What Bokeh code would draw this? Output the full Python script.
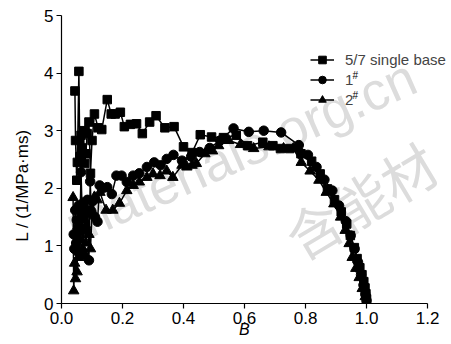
import math
from bokeh.plotting import figure
from bokeh.models import (Range1d, FixedTicker, Legend, LegendItem, Label)
from bokeh.embed import file_html
from bokeh.resources import INLINE

# ---------------- data ----------------
B_single = [0.044, 0.046, 0.050, 0.052, 0.057, 0.060, 0.064, 0.068, 0.072, 0.076,
            0.080, 0.084, 0.090, 0.095, 0.100, 0.108, 0.120, 0.132, 0.150, 0.163,
            0.176, 0.193, 0.206, 0.226, 0.246, 0.265, 0.289, 0.310, 0.339, 0.369,
            0.400, 0.428, 0.455, 0.492, 0.531, 0.573, 0.610, 0.660, 0.693, 0.718,
            0.748, 0.785, 0.820, 0.848, 0.872, 0.895, 0.917, 0.935, 0.947, 0.960,
            0.969, 0.978, 0.985, 0.991, 0.995, 0.998, 1.000]
L_single = [3.69, 2.83, 2.14, 2.45, 4.03, 2.55, 2.92, 2.70, 3.00, 2.43,
            2.60, 2.95, 3.15, 2.26, 2.83, 3.29, 3.05, 3.02, 3.54, 3.29,
            3.29, 3.32, 3.07, 3.11, 3.12, 2.95, 3.15, 3.26, 3.05, 3.07,
            2.72, 2.62, 2.93, 2.89, 2.88, 2.92, 2.74, 2.80, 2.74, 2.69,
            2.69, 2.60, 2.47, 2.25, 1.99, 1.80, 1.59, 1.38, 1.18, 0.97,
            0.78, 0.62, 0.50, 0.38, 0.27, 0.17, 0.08]

B_1 = [0.040, 0.042, 0.045, 0.048, 0.050, 0.053, 0.056, 0.060, 0.064, 0.068,
       0.072, 0.076, 0.080, 0.085, 0.090, 0.094, 0.098, 0.103, 0.110, 0.118,
       0.125, 0.135, 0.150, 0.165, 0.180, 0.197, 0.214, 0.235, 0.255, 0.280,
       0.304, 0.325, 0.345, 0.367, 0.395, 0.425, 0.453, 0.486, 0.520, 0.564,
       0.614, 0.663, 0.720, 0.778, 0.808, 0.836, 0.862, 0.888, 0.910, 0.932,
       0.948, 0.961, 0.972, 0.982, 0.990, 0.996, 1.000]
L_1 = [1.20, 0.95, 1.62, 1.05, 1.45, 0.90, 1.70, 1.25, 2.28, 1.55,
       0.85, 1.65, 1.30, 1.80, 0.75, 2.12, 1.60, 1.78, 1.50, 1.42,
       2.05, 2.00, 2.02, 1.90, 2.22, 2.22, 2.11, 2.22, 2.26, 2.37,
       2.45, 2.40, 2.51, 2.58, 2.48, 2.55, 2.63, 2.70, 2.83, 3.04,
       2.98, 3.00, 2.97, 2.75, 2.58, 2.37, 2.15, 1.96, 1.70, 1.43,
       1.18, 0.95, 0.72, 0.50, 0.32, 0.16, 0.05]

B_2 = [0.038, 0.040, 0.043, 0.046, 0.048, 0.051, 0.054, 0.058, 0.062, 0.066,
       0.070, 0.075, 0.080, 0.085, 0.090, 0.095, 0.100, 0.108, 0.117, 0.126,
       0.146, 0.168, 0.190, 0.214, 0.235, 0.255, 0.280, 0.300, 0.323, 0.345,
       0.365, 0.395, 0.411, 0.428, 0.442, 0.470, 0.495, 0.515, 0.548, 0.587,
       0.630, 0.680, 0.728, 0.760, 0.786, 0.815, 0.844, 0.868, 0.893, 0.915,
       0.930, 0.943, 0.953, 0.965, 0.976, 0.986, 0.996]
L_2 = [1.84, 0.22, 0.70, 0.43, 1.20, 0.55, 1.35, 0.80, 1.10, 1.75,
       0.95, 1.45, 1.05, 1.60, 1.20, 0.95, 1.55, 1.85, 1.80, 1.93,
       1.62, 1.62, 1.74, 1.96, 2.05, 2.11, 2.19, 2.25, 2.22, 2.30,
       2.19, 2.40, 2.37, 2.40, 2.43, 2.60, 2.65, 2.74, 2.83, 2.76,
       2.69, 2.72, 2.69, 2.69, 2.45, 2.30, 2.14, 1.93, 1.73, 1.50,
       1.27, 1.04, 0.80, 0.61, 0.45, 0.26, 0.12]

series_names = ["5/7 single base", "1", "2"]
series_sup = ["", "#", "#"]
x_ticks = [0.0, 0.2, 0.4, 0.6, 0.8, 1.0, 1.2]
x_tick_labels = ["0.0", "0.2", "0.4", "0.6", "0.8", "1.0", "1.2"]
y_ticks = [0, 1, 2, 3, 4, 5]
y_tick_labels = ["0", "1", "2", "3", "4", "5"]
x_title = "B"
y_title = "L / (1/MPa·ms)"
watermark_latin = "materials.org.cn"
watermark_cjk = "含能材"

FONT = "Liberation Sans"
NB = "\u00a0"

p = figure(width=451, height=344, output_backend="svg", toolbar_location=None,
           x_range=Range1d(0, 1.272), y_range=Range1d(0, 5),
           min_border_left=61, min_border_right=2, min_border_top=15,
           min_border_bottom=41)
p.grid.visible = False
p.outline_line_color = None
p.background_fill_color = "white"
p.border_fill_color = "white"

for ax, ticks, labels in ((p.xaxis[0], x_ticks, x_tick_labels), (p.yaxis[0], y_ticks, y_tick_labels)):
    ax.ticker = FixedTicker(ticks=ticks)
    ax.major_label_overrides = {t: l for t, l in zip(ticks, labels)}
    ax.axis_line_color = "black"
    ax.axis_line_width = 1.2
    ax.major_tick_line_color = "black"
    ax.major_tick_line_width = 1.2
    ax.major_tick_in = 0
    ax.major_tick_out = 5
    ax.minor_tick_line_color = None
    ax.major_label_text_font = FONT
    ax.major_label_text_font_size = "17px"
    ax.major_label_text_color = "black"
    ax.major_label_standoff = 3
    ax.axis_label_text_font = FONT
    ax.axis_label_text_color = "black"

p.xaxis.bounds = (0, 1.2)
p.xaxis.axis_label = x_title + NB * 5
p.xaxis.axis_label_text_font_style = "italic"
p.xaxis.axis_label_text_font_size = "16px"
p.xaxis.axis_label_standoff = -6

p.yaxis.axis_label = y_title + NB * 11
p.yaxis.axis_label_text_font_style = "normal"
p.yaxis.axis_label_text_font_size = "17px"
p.yaxis.axis_label_standoff = 9

# watermark (behind data)
p.add_layout(Label(x=7, y=76, x_units="screen", y_units="screen", text=watermark_latin,
                   angle=0.419, text_font=FONT, text_font_size="53px",
                   text_color="#dcdcdc", text_align="left", text_baseline="middle",
                   level="underlay"))
p.add_layout(Label(x=228, y=62, x_units="screen", y_units="screen", text=watermark_cjk,
                   angle=0.54, text_font="Noto Sans CJK SC", text_font_size="55px",
                   text_color="#dcdcdc", text_align="left", text_baseline="middle",
                   level="underlay"))

l1 = p.line(B_single, L_single, line_color="black", line_width=1.5)
s1 = p.scatter(B_single, L_single, marker="square", size=8.5, fill_color="black", line_color="black")
l2 = p.line(B_1, L_1, line_color="black", line_width=1.5)
s2 = p.scatter(B_1, L_1, marker="circle", size=9.5, fill_color="black", line_color="black")
l3 = p.line(B_2, L_2, line_color="black", line_width=1.5)
s3 = p.scatter(B_2, L_2, marker="triangle", size=10.5, fill_color="black", line_color="black")

legend = Legend(items=[LegendItem(label=series_names[0], renderers=[l1, s1]),
                       LegendItem(label=series_names[1], renderers=[l2, s2]),
                       LegendItem(label=series_names[2], renderers=[l3, s3])],
                location=(249, 194), orientation="vertical",
                glyph_width=24, glyph_height=19, label_height=19, spacing=1,
                label_standoff=11, padding=0, margin=0,
                background_fill_alpha=0, border_line_color=None,
                label_text_font=FONT, label_text_font_size="15px")
p.add_layout(legend)

for sup, yy in zip(series_sup[1:], (228, 208)):
    p.add_layout(Label(x=291, y=yy, x_units="screen", y_units="screen", text=sup,
                       text_font=FONT, text_font_size="10px", text_color="black",
                       text_align="left", text_baseline="middle"))

open("out.html", "w").write(file_html(p, INLINE))
